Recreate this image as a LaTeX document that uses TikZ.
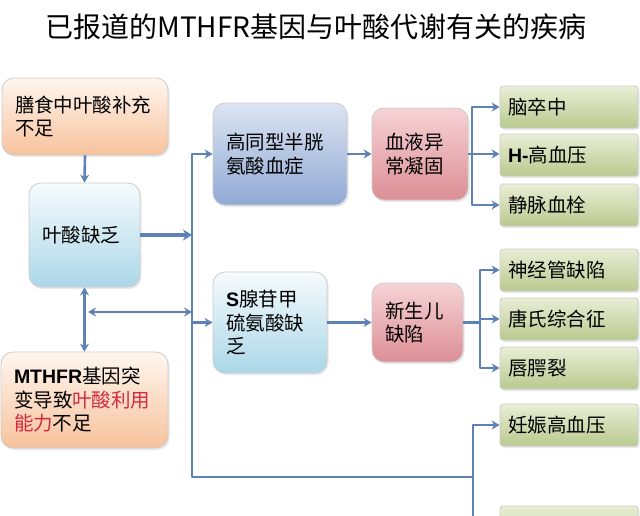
\documentclass[tikz,border=0pt]{standalone}
\usepackage{fontspec}
\setmainfont{Noto Sans CJK SC}
\newfontfamily\lat{Liberation Sans}
\usetikzlibrary{arrows.meta,shadows}
\definecolor{arr}{HTML}{5E82B5}
\definecolor{redtxt}{HTML}{D22A40}
\definecolor{orT}{HTML}{FFF6EF}
\definecolor{orB}{HTML}{F7C29C}
\definecolor{blT}{HTML}{F6FBFD}
\definecolor{blB}{HTML}{ABD7E8}
\definecolor{dbT}{HTML}{DCE4F2}
\definecolor{dbB}{HTML}{90A9D4}
\definecolor{rdT}{HTML}{F6D3D5}
\definecolor{rdB}{HTML}{DC8E95}
\definecolor{grT}{HTML}{E9EED6}
\definecolor{grB}{HTML}{B9C98E}
\begin{document}
\begin{tikzpicture}[x=1pt,y=-1pt,
  boxsize/.style n args={3}{minimum width=#1, minimum height=#2, text width=#3},
  basebox/.style={rounded corners=12pt, draw=black!20, line width=0.8pt,
    inner xsep=13pt, inner ysep=0pt, align=left,
    font=\fontsize{19.5}{23.5}\selectfont,
    drop shadow={opacity=0.18, shadow xshift=1.5pt, shadow yshift=-2pt}},
  orbox/.style={basebox, top color=orT, bottom color=orB},
  blbox/.style={basebox, top color=blT, bottom color=blB},
  dbbox/.style={basebox, top color=dbT, bottom color=dbB},
  rdbox/.style={basebox, top color=rdT, bottom color=rdB},
  gbox/.style={basebox, rounded corners=3pt, top color=grT, bottom color=grB,
    inner xsep=8pt, boxsize={138pt}{42pt}{122pt}},
  conn/.style={draw=arr, line width=2.6pt, line join=round},
  arrowc/.style={conn, -{Stealth[length=8pt,width=9pt]}},
  dblarrow/.style={conn, {Stealth[length=8pt,width=9pt]}-{Stealth[length=8pt,width=9pt]}}
]
\useasboundingbox (0,0) rectangle (640,515);
\clip (0,0) rectangle (640,515);
\fill[white] (0,0) rectangle (640,515);

% title
\node[font=\fontsize{28}{32}\selectfont, inner sep=0pt] (title) at (316,27)
  {已报道的MTHFR基因与叶酸代谢有关的疾病};

% left column
\node[orbox, boxsize={166pt}{77pt}{140pt}] (diet) at (85,116.5)
  {膳食中叶酸补充\\不足};
\node[blbox, boxsize={111pt}{104pt}{85pt}] (folate) at (84.5,235)
  {叶酸缺乏};
\node[orbox, boxsize={167pt}{96pt}{141pt}] (mthfr) at (84.5,400)
  {{\lat\bfseries MTHFR}基因突\\变导致\textcolor{redtxt}{叶酸利用}\\\textcolor{redtxt}{能力}不足};

% middle column
\node[dbbox, boxsize={134pt}{102pt}{108pt}] (hcy) at (280,154)
  {高同型半胱\\氨酸血症};
\node[rdbox, boxsize={96pt}{92pt}{70pt}] (blood) at (420,154)
  {血液异\\常凝固};
\node[blbox, boxsize={114pt}{101pt}{88pt}] (sam) at (270,322.5)
  {{\lat\bfseries S}腺苷甲\\硫氨酸缺\\乏};
\node[rdbox, boxsize={91pt}{79pt}{65pt}] (newborn) at (417.5,322.5)
  {新生儿\\缺陷};

% right column
\node[gbox] (stroke) at (569,107) {脑卒中};
\node[gbox] (hbp) at (569,155) {{\lat\bfseries H-}高血压};
\node[gbox] (vte) at (569,205) {静脉血栓};
\node[gbox] (ntd) at (569,270) {神经管缺陷};
\node[gbox] (down) at (569,319) {唐氏综合征};
\node[gbox] (cleft) at (569,368) {唇腭裂};
\node[gbox] (preg) at (569,425) {妊娠高血压};
\node[gbox] (last) at (569,527) {};

% bus coordinates
\coordinate (busTop) at (192,154);
\coordinate (busBot) at (192,477);
\coordinate (busS) at (192,322.5);
\coordinate (busR) at (473,477);
\coordinate (busRbot) at (473,560);
\coordinate (J) at (88,312);
\coordinate (br1) at (472,154);
\coordinate (br2) at (480,322.5);

% connectors
\draw[arrowc] (diet.south) -- (folate.north);
\draw[conn, line width=4.5pt, -{Stealth[length=9pt,width=11pt]}] (folate.east) -- (folate.east -| busTop);
\draw[dblarrow] (folate.south) -- (mthfr.north);
\draw[dblarrow] (J) -- (J -| busTop);
\draw[arrowc] (busR) -- (busBot) -- (busTop) -- (hcy.west);
\draw[arrowc] (busS) -- (sam.west);
\draw[arrowc] (busRbot) |- (preg.west);
\draw[arrowc] (busRbot) |- (last.west);

\draw[arrowc] (hcy.east) -- (blood.west);
\draw[conn] (blood.east) -- (br1);
\draw[arrowc] (br1) |- (stroke.west);
\draw[arrowc] (br1) -- (hbp.west |- br1);
\draw[arrowc] (br1) |- (vte.west);

\draw[arrowc] (sam.east) -- (newborn.west);
\draw[conn] (newborn.east) -- (br2);
\draw[arrowc] (br2) |- (ntd.west);
\draw[arrowc] (br2) |- (down.west);
\draw[arrowc] (br2) |- (cleft.west);
\end{tikzpicture}
\end{document}
